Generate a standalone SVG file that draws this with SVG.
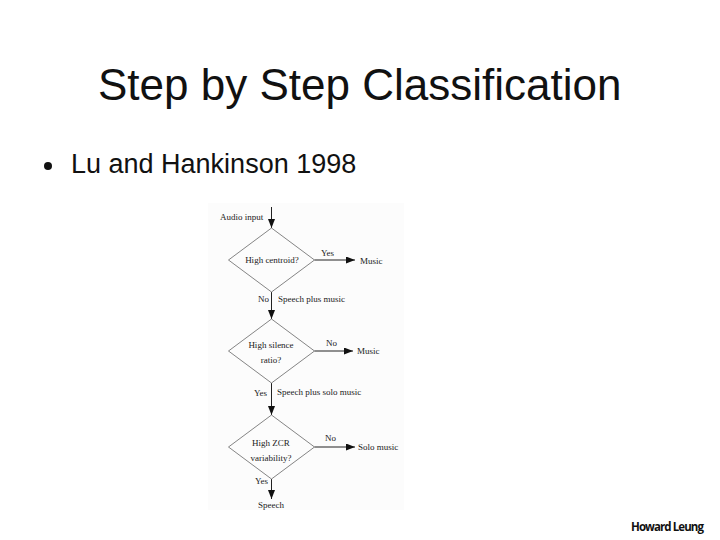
<svg xmlns="http://www.w3.org/2000/svg" width="720" height="540" viewBox="0 0 720 540">
<style>
.title{font-family:"Liberation Sans",Arial,sans-serif;font-size:44px;fill:#111}
.bul{font-family:"Liberation Sans",Arial,sans-serif;font-size:27px;fill:#111}
.lbl{font-family:"Liberation Serif","Times New Roman",serif;font-size:9px;fill:#222}
.mid{text-anchor:middle}
.dia{fill:none;stroke:#666;stroke-width:0.8}
.edge{fill:none;stroke:#222;stroke-width:1}
.foot{font-family:"Open Sans","Liberation Sans",sans-serif;font-size:11.5px;font-weight:bold;fill:#111}
</style>
<defs>
<marker id="ah" markerWidth="9" markerHeight="7" refX="9" refY="3.5" orient="auto" markerUnits="userSpaceOnUse">
<path d="M0,0 L9,3.5 L0,7 z" fill="#111"/>
</marker>
</defs>
<rect width="720" height="540" fill="#fff"/>
<text class="title" x="98" y="100">Step by Step Classification</text>
<circle cx="48" cy="166" r="4" fill="#111"/>
<text class="bul" x="71" y="173">Lu and Hankinson 1998</text>
<rect x="208" y="203" width="196" height="307" fill="#fcfcfc"/>

<g id="connectors">
<line class="edge" x1="271.5" y1="207" x2="271.5" y2="228" marker-end="url(#ah)"/>
<line class="edge" x1="314.5" y1="260" x2="355" y2="260" marker-end="url(#ah)"/>
<line class="edge" x1="271.5" y1="292" x2="271.5" y2="319" marker-end="url(#ah)"/>
<line class="edge" x1="314.5" y1="351" x2="353" y2="351" marker-end="url(#ah)"/>
<line class="edge" x1="271.5" y1="383" x2="271.5" y2="415" marker-end="url(#ah)"/>
<line class="edge" x1="314.5" y1="447" x2="355" y2="447" marker-end="url(#ah)"/>
<line class="edge" x1="271.5" y1="479" x2="271.5" y2="499" marker-end="url(#ah)"/>
<text class="lbl" x="321" y="256">Yes</text>
<text class="lbl" x="258" y="302">No</text>
<text class="lbl" x="278" y="302">Speech plus music</text>
<text class="lbl" x="326" y="346">No</text>
<text class="lbl" x="254" y="396">Yes</text>
<text class="lbl" x="277" y="395">Speech plus solo music</text>
<text class="lbl" x="325" y="441">No</text>
<text class="lbl" x="255" y="484">Yes</text>
</g>

<g id="input"><text class="lbl" x="220" y="220">Audio input</text></g>
<g id="d1">
<polygon class="dia" points="271.5,228 314.5,260 271.5,292 228.5,260"/>
<text class="lbl mid" x="272" y="263">High centroid?</text>
</g>
<g id="music1"><text class="lbl" x="360" y="264">Music</text></g>
<g id="d2">
<polygon class="dia" points="271.5,319 314.5,351 271.5,383 228.5,351"/>
<text class="lbl mid" x="271" y="348">High silence</text>
<text class="lbl mid" x="271" y="363">ratio?</text>
</g>
<g id="music2"><text class="lbl" x="357" y="354">Music</text></g>
<g id="d3">
<polygon class="dia" points="271.5,415 314.5,447 271.5,479 228.5,447"/>
<text class="lbl mid" x="271" y="446">High ZCR</text>
<text class="lbl mid" x="271" y="461">variability?</text>
</g>
<g id="solo"><text class="lbl" x="358" y="450">Solo music</text></g>
<g id="speech"><text class="lbl mid" x="271" y="508">Speech</text></g>

<text class="foot" x="631" y="531" textLength="73">Howard Leung</text>
</svg>
